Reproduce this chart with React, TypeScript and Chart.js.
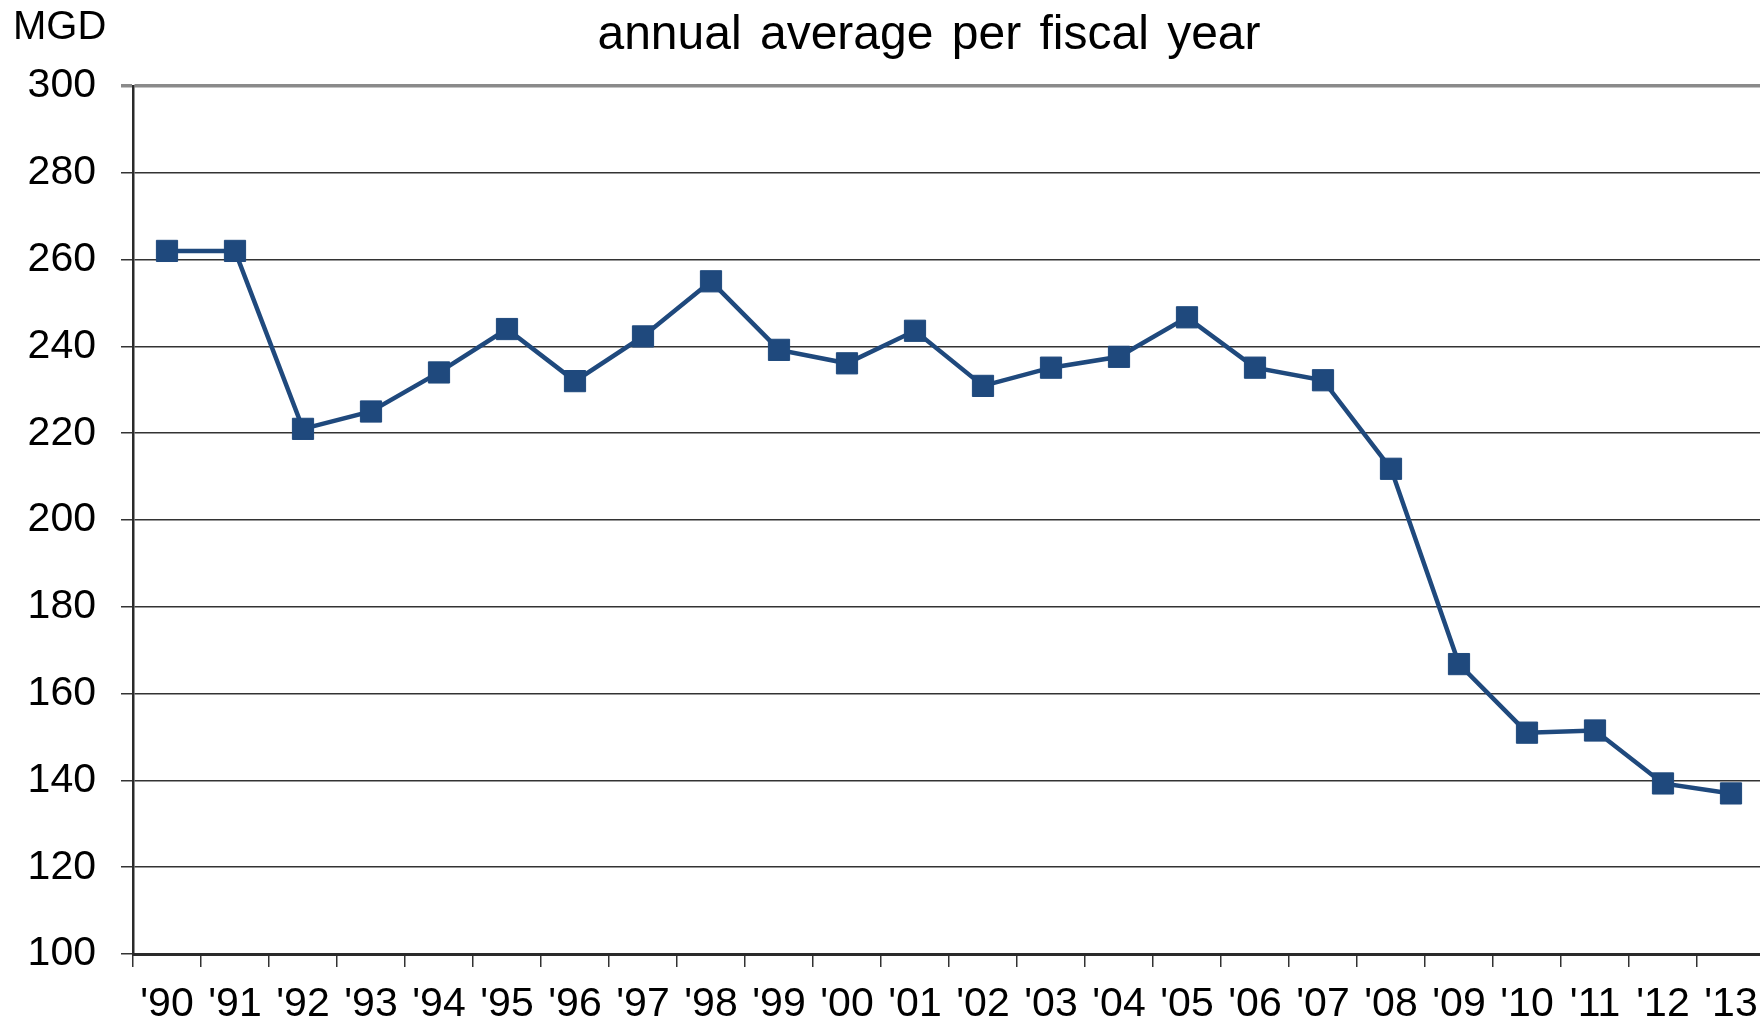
import React, { useEffect, useRef } from "react";
import { Chart, registerables } from "chart.js";

Chart.register(...registerables);

const categories = ["'90", "'91", "'92", "'93", "'94", "'95", "'96", "'97", "'98", "'99", "'00", "'01", "'02", "'03", "'04", "'05", "'06", "'07", "'08", "'09", "'10", "'11", "'12", "'13"];
const seriesValues = [262, 262, 221, 225, 234, 244, 232, 242.3, 255, 239.2, 236.1, 243.6, 230.9, 235.1, 237.6, 246.7, 235.1, 232.2, 211.8, 166.8, 151, 151.5, 139.3, 137];
const titleText = "annual average per fiscal year";
const unitText = "MGD";
const yMin = 100;
const yMax = 300;
const yStep = 20;

const FONT = "'Liberation Sans', Arial, sans-serif";
const LINE_COLOR = "#1F497D";
const GRID_COLOR = "#333333";
const CANVAS_W = 1781;
const CANVAS_H = 1022;

const textPlugin = {
  id: "textPlugin",
  afterDraw(chart: any) {
    const ctx = chart.ctx;
    ctx.save();
    ctx.fillStyle = "#000";
    ctx.textBaseline = "middle";
    ctx.font = `40px ${FONT}`;
    ctx.textAlign = "left";
    ctx.fillText(unitText, 13, 28);
    ctx.font = `48px ${FONT}`;
    ctx.textAlign = "center";
    try { (ctx as any).wordSpacing = "5px"; } catch (e) {}
    ctx.fillText(titleText, 929, 36);
    ctx.restore();
  },
};

export default function App() {
  const ref = useRef<HTMLCanvasElement>(null);
  useEffect(() => {
    if (!ref.current) return;
    const chart = new Chart(ref.current, {
      type: "line",
      data: {
        labels: categories,
        datasets: [
          {
            data: seriesValues,
            borderColor: LINE_COLOR,
            backgroundColor: LINE_COLOR,
            borderWidth: 4.5,
            pointStyle: "rect",
            pointRadius: 15,
            pointHoverRadius: 15,
            pointBackgroundColor: LINE_COLOR,
            pointBorderColor: LINE_COLOR,
            pointBorderWidth: 1,
            tension: 0,
          },
        ],
      },
      options: {
        responsive: false,
        animation: false,
        devicePixelRatio: 1,
        layout: { padding: { top: 86, left: 0, right: 0, bottom: 0 } },
        plugins: {
          legend: { display: false },
          title: { display: false },
          tooltip: { enabled: false },
        },
        scales: {
          x: {
            type: "category",
            offset: true,
            grid: {
              offset: true,
              drawOnChartArea: false,
              drawTicks: true,
              tickLength: 13,
              color: GRID_COLOR,
              lineWidth: 1.5,
            },
            border: { display: true, color: "#2a2a2a", width: 3 },
            ticks: {
              color: "#000",
              font: { family: FONT, size: 41 },
              padding: 13,
              maxRotation: 0,
              autoSkip: false,
            },
            afterFit(scale: any) {
              scale.height = 68;
              scale.paddingLeft = 0;
              scale.paddingRight = 0;
            },
          },
          y: {
            min: yMin,
            max: yMax,
            ticks: {
              stepSize: yStep,
              color: "#000",
              font: { family: FONT, size: 41 },
              padding: 25,
            },
            grid: {
              color: (c: any) => (c.tick && c.tick.value === yMax ? "#8a8a8a" : GRID_COLOR),
              lineWidth: (c: any) => (c.tick && c.tick.value === yMax ? 3.5 : 1.5),
              tickLength: 12,
              drawTicks: true,
            },
            border: { display: true, color: "#2a2a2a", width: 2.5 },
            afterFit(scale: any) {
              scale.width = 133;
            },
          },
        },
      },
      plugins: [textPlugin],
    });
    return () => chart.destroy();
  }, []);
  return (
    <div style={{ position: "fixed", left: 0, top: 0, width: 1760, height: 1022, overflow: "hidden", background: "#fff" }}>
      <canvas ref={ref} width={CANVAS_W} height={CANVAS_H} style={{ display: "block" }} />
    </div>
  );
}
